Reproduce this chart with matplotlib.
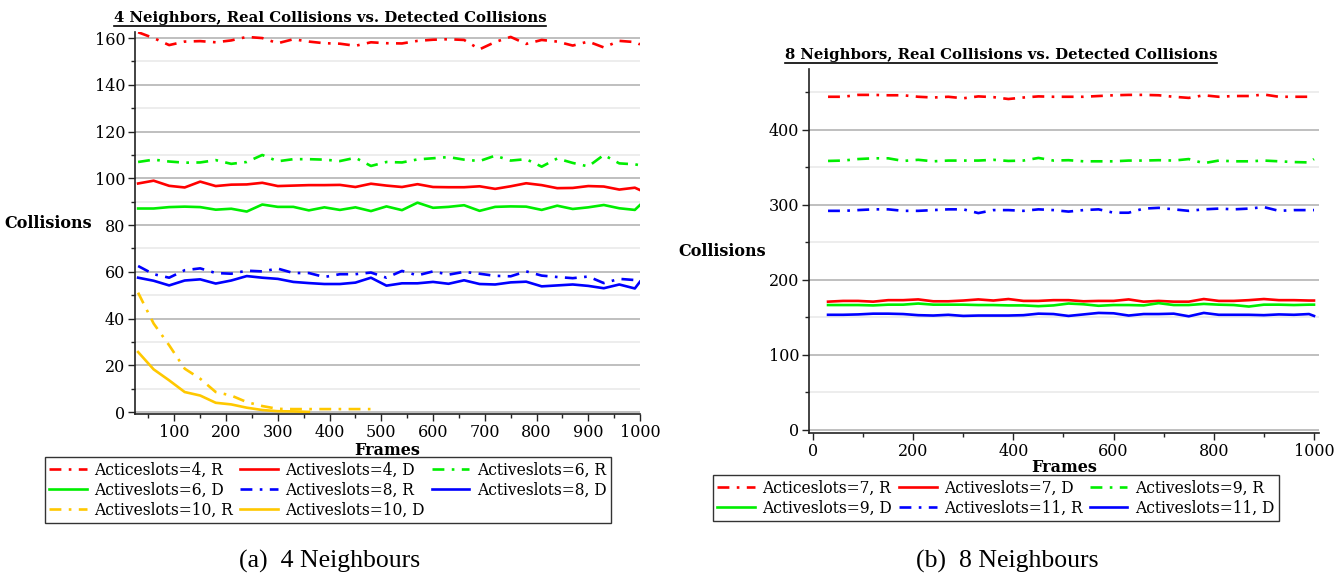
import matplotlib
matplotlib.use("Agg")
import matplotlib.pyplot as plt
import matplotlib.ticker as tick
from matplotlib.lines import Line2D

# frames sampled every 30 frames, plus the last one
frames = list(range(30, 1000, 30)) + [1000]

# 4 neighbours
n4_slots4_r = [162.5, 160, 157, 158.5, 158.7, 158.2, 159, 160.5, 160, 157.8, 159.5, 158.5, 157.8, 157.6,
               156.7, 158.2, 157.8, 157.7, 158.8, 159.3, 159.5, 159.2, 155.2, 158.3, 160.5, 157.5, 159.2,
               158.5, 156.8, 158.5, 156, 158.8, 158.3, 157.3]
n4_slots4_d = [97.8, 99, 96.8, 96.1, 98.6, 96.7, 97.3, 97.4, 98.1, 96.7, 96.9, 97.1, 97.1, 97.2, 96.3, 97.7,
               96.9, 96.3, 97.5, 96.3, 96.2, 96.2, 96.6, 95.5, 96.6, 97.9, 97.1, 95.8, 95.9, 96.7, 96.5,
               95.2, 96.0, 95.0]
n4_slots6_r = [107, 108, 107.2, 106.7, 106.8, 107.8, 106.2, 107, 110, 107.3, 108.2, 108.2, 108, 107.4,
               108.8, 105.3, 107, 106.8, 108.1, 108.6, 109.1, 108, 107.4, 109.7, 107.6, 108.2, 105, 108.5,
               106.6, 105.1, 110, 106.4, 106, 105.6]
n4_slots6_d = [87.1, 87.1, 87.7, 87.9, 87.7, 86.6, 87, 85.8, 88.8, 87.8, 87.8, 86.3, 87.6, 86.5, 87.6, 86,
               88, 86.4, 89.6, 87.4, 87.8, 88.5, 86.1, 87.8, 88, 87.9, 86.5, 88.3, 86.9, 87.6, 88.6, 87.2,
               86.5, 88.6]
n4_slots8_r = [62.5, 59, 57.5, 60.7, 61.5, 59.5, 59.2, 60.5, 60.2, 61.4, 59.5, 59.5, 57.8, 59, 59, 59.7,
               57.5, 60.4, 58.5, 60.2, 58.8, 60, 59.2, 58.3, 58.1, 60.2, 58.4, 57.8, 57.3, 58, 55.2, 57,
               56.5, 56.8]
n4_slots8_d = [57.5, 56.2, 54.2, 56.3, 56.8, 55, 56.3, 58.2, 57.5, 57, 55.7, 55.2, 54.8, 54.8, 55.4, 57.5,
               54.1, 55.1, 55.1, 55.7, 54.9, 56.4, 54.8, 54.6, 55.5, 55.8, 53.8, 54.2, 54.6, 54, 53, 54.6,
               52.9, 55.8]
n4_slots10_r = [51.1, 37.9, 28.6, 18.6, 14.3, 8.6, 7.1, 4.3, 2.6, 1.4, 1.3, 1.3, 1.3, 1.3, 1.3, 1.3]
n4_slots10_d = [25.7, 18.3, 13.6, 8.6, 7.1, 4.0, 3.3, 1.9, 0.9, 0.4, 0.3, 0.1]

# 8 neighbours
n8_slots7_r = [444, 444, 446.5, 446.5, 446, 446, 444, 443, 444, 442, 444.5, 443.5, 441, 443, 444.5, 444,
               444, 444, 445, 446, 446.5, 446.5, 446, 444, 442.5, 446, 444, 445, 445, 447, 444, 444, 444, 444]
n8_slots7_d = [171, 172, 172, 171, 173, 173, 174, 171.5, 171.5, 172.5, 174, 172.5, 174.5, 172, 172, 173,
               173, 171.5, 172, 172, 174, 171, 172, 171, 171, 174.5, 172, 172, 173, 174.5, 173, 173, 172.5,
               172.5]
n8_slots9_r = [358.5, 359, 361, 362, 362, 358.5, 360, 358, 359, 359, 359, 360, 358.5, 359, 362.5, 359,
               359.5, 358, 358, 358, 359, 359, 359.5, 359, 361, 355.5, 359, 358, 358, 359, 358, 357, 356.5,
               361]
n8_slots9_d = [166.5, 166.5, 166.5, 166, 167, 167, 168.5, 167, 167, 167, 166.5, 166.5, 166, 166, 165, 166,
               168.5, 167.5, 165.5, 166.5, 166.5, 166, 169, 166.5, 166.5, 168, 167, 166.5, 164.5, 167, 167,
               166.5, 167, 167]
n8_slots11_r = [292, 292, 293, 294, 294, 292, 292, 293, 294, 294, 289, 293, 293, 292, 294, 293, 291, 293,
                294, 289.5, 289.5, 295, 296, 294, 292, 294, 295, 294, 295, 297, 292, 293, 293, 293]
n8_slots11_d = [153.5, 153.5, 154, 155, 155, 154.5, 153, 152.5, 153.5, 152, 152.5, 152.5, 152.5, 153, 155,
                154.5, 152, 154, 156, 155.5, 152.5, 154.5, 154.5, 155, 151.5, 156, 153.5, 153.5, 153.5, 153,
                154, 153.5, 154.5, 152]

RED, GREEN, BLUE, GOLD = '#ff0000', '#00ee00', '#0000ff', '#ffc800'
DASHDOT = (0, (4.5, 2.8, 1.0, 2.8))
SERIF = ['DejaVu Serif']

plt.rcParams['font.family'] = SERIF

fig = plt.figure(figsize=(13.4, 5.76), dpi=100)
ax1 = fig.add_axes([135 / 1340, 162 / 576, 505 / 1340, 382 / 576])
ax2 = fig.add_axes([809 / 1340, 143 / 576, 510 / 1340, 364 / 576])


def style_axes(ax, major, minor, xmajor, xminor):
    for s in ('top', 'right'):
        ax.spines[s].set_visible(False)
    for s in ('left', 'bottom'):
        ax.spines[s].set_color('#222222')
        ax.spines[s].set_linewidth(1.2)
    ax.yaxis.set_major_locator(tick.MultipleLocator(major))
    ax.yaxis.set_minor_locator(tick.MultipleLocator(minor))
    ax.xaxis.set_major_locator(tick.MultipleLocator(xmajor))
    ax.xaxis.set_minor_locator(tick.MultipleLocator(xminor))
    ax.grid(axis='y', which='major', color='#b4b4b4', lw=1.2)
    ax.grid(axis='y', which='minor', color='#eaeaea', lw=1.2)
    ax.set_axisbelow(True)
    ax.tick_params(which='both', direction='out', labelsize=11.5, color='#222222', pad=2)
    ax.tick_params(which='major', length=5, width=1)
    ax.tick_params(which='minor', length=3, width=1)


def plot_series(ax, series):
    for x, y, color, ls, label in series:
        ax.plot(x, y, color=color, linestyle=ls, lw=1.9, label=label)


def row_major(handles, ncol):
    # legend fills columns first; reorder so entries read across the rows
    return [h for c in range(ncol) for h in handles[c::ncol]]


plot_series(ax1, [
    (frames, n4_slots4_r, RED, DASHDOT, 'Acticeslots=4, R'),
    (frames, n4_slots4_d, RED, '-', 'Activeslots=4, D'),
    (frames, n4_slots6_r, GREEN, DASHDOT, 'Activeslots=6, R'),
    (frames, n4_slots6_d, GREEN, '-', 'Activeslots=6, D'),
    (frames, n4_slots8_r, BLUE, DASHDOT, 'Activeslots=8, R'),
    (frames, n4_slots8_d, BLUE, '-', 'Activeslots=8, D'),
    (frames[:len(n4_slots10_r)], n4_slots10_r, GOLD, DASHDOT, 'Activeslots=10, R'),
    (frames[:len(n4_slots10_d)], n4_slots10_d, GOLD, '-', 'Activeslots=10, D'),
])
style_axes(ax1, 20, 10, 100, 50)
ax1.set_xlim(24, 1000)
ax1.set_ylim(-0.8, 162.6)

plot_series(ax2, [
    (frames, n8_slots7_r, RED, DASHDOT, 'Acticeslots=7, R'),
    (frames, n8_slots7_d, RED, '-', 'Activeslots=7, D'),
    (frames, n8_slots9_r, GREEN, DASHDOT, 'Activeslots=9, R'),
    (frames, n8_slots9_d, GREEN, '-', 'Activeslots=9, D'),
    (frames, n8_slots11_r, BLUE, DASHDOT, 'Activeslots=11, R'),
    (frames, n8_slots11_d, BLUE, '-', 'Activeslots=11, D'),
])
style_axes(ax2, 100, 50, 200, 100)
ax2.set_xlim(-8, 1010)
ax2.set_ylim(-4, 481)

for ax, xl in ((ax1, -0.172), (ax2, -0.171)):
    ax.set_ylabel('Collisions', rotation=0, fontsize=11.5, fontweight='bold', va='center', ha='center')
    ax.yaxis.set_label_coords(xl, 0.5)
    ax.set_xlabel('Frames', fontsize=11.5, fontweight='bold', labelpad=0)
    ax.xaxis.set_label_coords(0.5, -0.072)

leg_kw = dict(loc='upper left', ncol=3, frameon=True, fancybox=False, edgecolor='black',
              borderaxespad=0, borderpad=0.28, labelspacing=0.2, handlelength=2.4, handletextpad=0.5,
              columnspacing=0.45, prop={'family': SERIF, 'size': 11.2})
leg1 = fig.legend(handles=row_major(ax1.get_lines(), 3), bbox_to_anchor=(45 / 1340, 1 - 457 / 576), **leg_kw)
leg2 = fig.legend(handles=row_major(ax2.get_lines(), 3), bbox_to_anchor=(713 / 1340, 1 - 475 / 576), **leg_kw)
for leg in (leg1, leg2):
    leg.get_frame().set_linewidth(1.0)
    leg.get_frame().set_boxstyle('square', pad=0)

t1 = fig.text(330 / 1340, 1 - 18 / 576, '4 Neighbors, Real Collisions vs. Detected Collisions',
              fontsize=10.7, fontweight='bold', ha='center', va='center')
t2 = fig.text(1001 / 1340, 1 - 55 / 576, '8 Neighbors, Real Collisions vs. Detected Collisions',
              fontsize=10.7, fontweight='bold', ha='center', va='center')

fig.text(330 / 1340, 1 - 561 / 576, '(a)  4 Neighbours', fontsize=18.5, ha='center', va='center',
         family=['Liberation Serif'])
fig.text(1007 / 1340, 1 - 561 / 576, '(b)  8 Neighbours', fontsize=18.5, ha='center', va='center',
         family=['Liberation Serif'])

# underline the titles
fig.canvas.draw()
for t in (t1, t2):
    bb = t.get_window_extent()
    fig.add_artist(Line2D([bb.x0, bb.x1], [bb.y0 - 1, bb.y0 - 1], transform=None, color='black', lw=1.2))

fig.savefig('out.png', dpi=100)
